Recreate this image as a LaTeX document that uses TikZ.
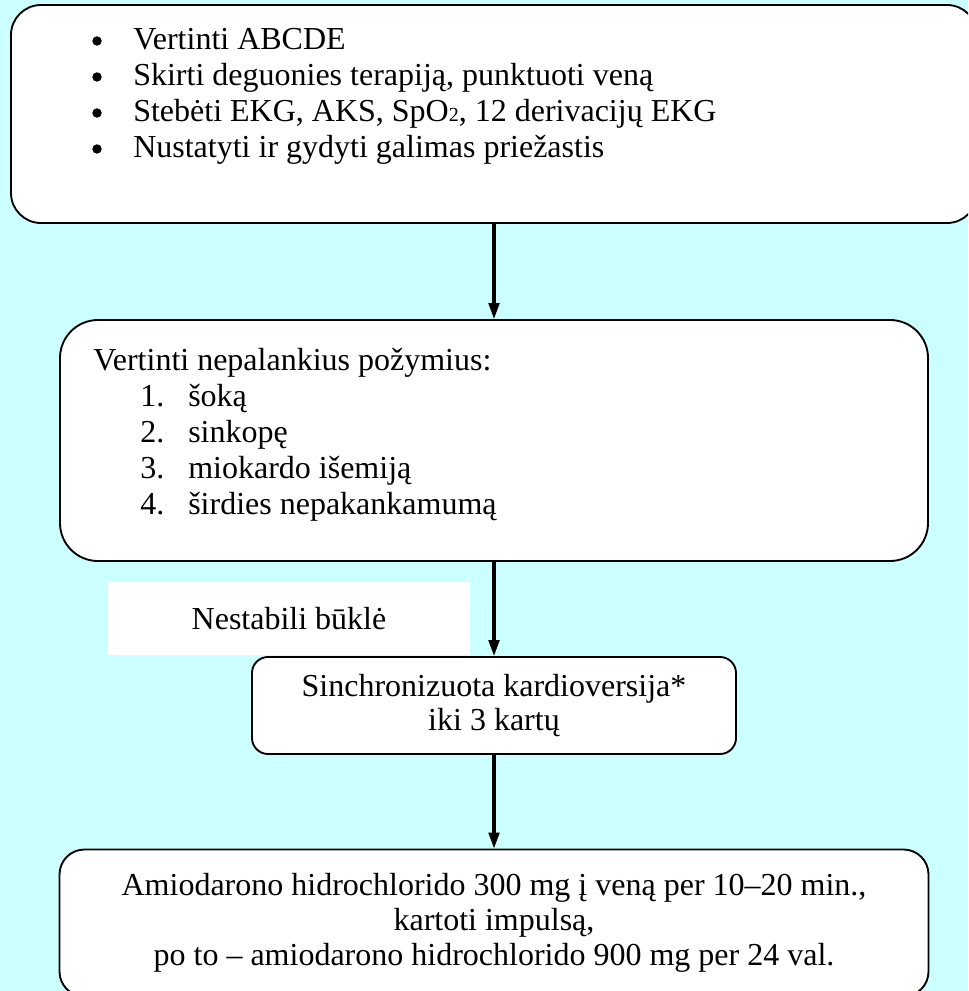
\documentclass[tikz,border=0pt]{standalone}
\usepackage{fontspec}
\setmainfont{Liberation Serif}
\usetikzlibrary{arrows.meta}
\definecolor{bgcyan}{RGB}{204,255,255}

\tikzset{
  box/.style={draw,fill=white,rounded corners=#1,line width=1.4pt,align=center,inner sep=0pt},
  flow/.style={line width=2.3pt,-{Triangle[length=12pt,width=8pt]}},
  every node/.style={font=\fontsize{24}{26}\selectfont}
}

\begin{document}
\begin{tikzpicture}[x=0.75pt,y=-0.75pt]
  \useasboundingbox (0,0) rectangle (968,991);
  \clip (0,0) rectangle (968,991);
  \fill[bgcyan] (0,0) rectangle (968,991);

  % boxes
  \node[box=22.5pt,minimum width=724.5pt,minimum height=163.5pt] (abcde) at (494,114) {};
  \node[box=28.5pt,minimum width=651pt,minimum height=180.75pt] (signs) at (494,440.5) {};
  \node[fill=white,minimum width=271.5pt,minimum height=54.75pt,inner sep=0pt] (unstable) at (289,618.5) {Nestabili būklė};
  \node[box=12pt,minimum width=363pt,minimum height=72.75pt] (cardio) at (494,705.5)
    {Sinchronizuota kardioversija*\\iki 3 kartų};
  \node[box=18.75pt,minimum width=651.75pt,minimum height=110.25pt] (amio) at (494,923)
    {Amiodarono hidrochlorido 300 mg į veną per 10–20 min.,\\kartoti impulsą,\\po to – amiodarono hidrochlorido 900 mg per 24 val.};

  % bullet list
  \foreach \txt [count=\i] in {Vertinti ABCDE, {Skirti deguonies terapiją, punktuoti veną},
      {Stebėti EKG, AKS, SpO{\fontsize{15}{15}\selectfont 2}, 12 derivacijų EKG},
      Nustatyti ir gydyti galimas priežastis}
  {
    \node[circle,fill,inner sep=2.5pt] (dot\i) at (97,{5+36*\i}) {};
    \node[anchor=base west,inner sep=0pt] (todo\i) at (133,{14+36*\i}) {\txt};
  }

  % numbered list
  \node[anchor=base west,inner sep=0pt] (head) at (93,370) {Vertinti nepalankius požymius:};
  \foreach \txt [count=\i] in {šoką, sinkopę, miokardo išemiją, širdies nepakankamumą}
  {
    \node[anchor=base west,inner sep=0pt] (num\i) at (140,{370+36*\i}) {\i.};
    \node[anchor=base west,inner sep=0pt] (sign\i) at (188,{370+36*\i}) {\txt};
  }

  \draw[flow] (abcde) -- (signs);
  \draw[flow] (signs) -- (cardio);
  \draw[flow] (cardio) -- (amio);
\end{tikzpicture}
\end{document}
